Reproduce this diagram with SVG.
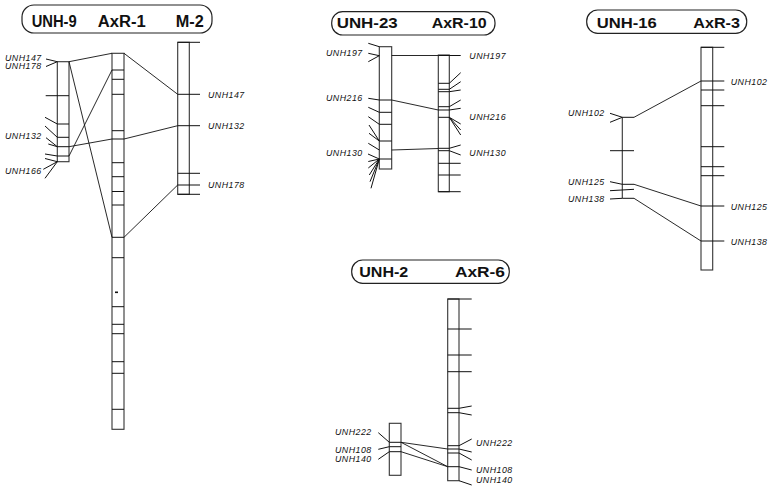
<svg xmlns="http://www.w3.org/2000/svg" width="769" height="486" viewBox="0 0 769 486">
<style>
.bg{fill:#fff}
.chr{fill:none;stroke:#333;stroke-width:1.1}
.t{stroke:#111;stroke-width:1;fill:none}
.c{stroke:#111;stroke-width:0.9;fill:none}
.box{fill:none;stroke:#222;stroke-width:1.2}
.lbl{font-family:"Liberation Sans",Arial,sans-serif;font-style:italic;font-size:8.8px;letter-spacing:0.5px;fill:#111}
.title{font-family:"Liberation Sans",Arial,sans-serif;font-weight:bold;font-size:16px;fill:#111}
.title.s{font-size:15px}
</style>
<rect class="bg" x="0" y="0" width="769" height="486"/>

<!-- Titles -->
<g id="title1">
<rect class="box" x="22" y="5" width="190" height="28" rx="12"/>
<text class="title" x="31.7" y="26.7" textLength="45" lengthAdjust="spacingAndGlyphs">UNH-9</text>
<text class="title" x="97.7" y="26.7" textLength="48" lengthAdjust="spacingAndGlyphs">AxR-1</text>
<text class="title" x="175.7" y="26.7" textLength="28" lengthAdjust="spacingAndGlyphs">M-2</text>
</g>
<g id="title2">
<rect class="box" x="331.7" y="11.7" width="163.3" height="23.3" rx="11"/>
<text class="title s" x="336.7" y="27.5" textLength="61" lengthAdjust="spacingAndGlyphs">UNH-23</text>
<text class="title s" x="431.7" y="27.5" textLength="55" lengthAdjust="spacingAndGlyphs">AxR-10</text>
</g>
<g id="title3">
<rect class="box" x="586.7" y="10" width="160" height="23.3" rx="11"/>
<text class="title s" x="596.7" y="27.7" textLength="60" lengthAdjust="spacingAndGlyphs">UNH-16</text>
<text class="title s" x="693.3" y="27.7" textLength="46.7" lengthAdjust="spacingAndGlyphs">AxR-3</text>
</g>
<g id="title4">
<rect class="box" x="351.7" y="260" width="157.6" height="23.3" rx="11"/>
<text class="title s" x="359.3" y="277.3" textLength="49" lengthAdjust="spacingAndGlyphs">UNH-2</text>
<text class="title s" x="455" y="277.3" textLength="50" lengthAdjust="spacingAndGlyphs">AxR-6</text>
</g>

<!-- UNH-9 -->
<g id="UNH-9">
<rect class="chr" x="57.3" y="61.7" width="11.7" height="100"/>
<path class="t" d="M45.7 95.7H69M57.3 124H69M57.3 137.3H69M57.3 146.7H69M57.3 156H69"/>
<path class="t" d="M46 59L57.3 61.7M46 66.5L57.3 61.7M45 117.3L57.3 124M45 126L57.3 137.3M46 137.7L57.3 146.7M48.3 144L57.3 146.7M45 154L57.3 156M45 158.5L57.3 161.7M43.3 169.3L57.3 161.7M45 178.3L57.3 161.7"/>
<text class="lbl" x="5" y="60.5">UNH147</text>
<text class="lbl" x="5" y="69">UNH178</text>
<text class="lbl" x="5" y="138.5">UNH132</text>
<text class="lbl" x="5" y="173.5">UNH166</text>
</g>

<!-- AxR-1 -->
<g id="AxR-1">
<rect class="chr" x="112" y="53.3" width="12" height="376"/>
<path class="t" d="M112 70H124M112 79.3H124M112 94.3H124M112 130.7H124M112 139H124M112 162.7H124M112 176.7H124M112 191.5H124M112 205H124M112 237.3H124M112 257.7H124M112 306.7H124M112 324.3H124M112 333.7H124M112 361.7H124M112 373.3H124M112 409.3H124"/>
<path d="M115 292.3H118" stroke="#111" stroke-width="1.6"/>
</g>

<!-- M-2 -->
<g id="M-2">
<rect class="chr" x="177.7" y="42.3" width="11.6" height="152"/>
<path class="t" d="M177.7 42.3H200M177.7 94.3H200M177.7 125.7H200M177.7 173.3H200M177.7 185H200M177.7 194.3H200"/>
<text class="lbl" x="208" y="98">UNH147</text>
<text class="lbl" x="208" y="129">UNH132</text>
<text class="lbl" x="208" y="188">UNH178</text>
</g>

<!-- UNH-23 -->
<g id="UNH-23">
<rect class="chr" x="379.3" y="46.7" width="12.4" height="122.3"/>
<path class="t" d="M379.3 100H391.7M379.3 112.3H391.7M379.3 124.3H391.7M379.3 141H391.7M379.3 159H391.7"/>
<path class="t" d="M368.3 43.3L379.3 46.7M368.3 53.3L379.3 55.7M368.3 61.7L379.3 55.7M368.3 98.3L379.3 100M368.3 107.3L379.3 112.3M368.3 116.7L379.3 124.3M369 125L379.3 141M369 133.3L379.3 141M368.3 143.3L379.3 150M368 154L379.3 159M368.3 161.5L379.3 159M368.3 168L379.3 159M369.3 175L379.3 159M370 181.7L379.3 159M371 188.3L379.3 159"/>
<text class="lbl" x="326" y="55.5">UNH197</text>
<text class="lbl" x="326" y="100.5">UNH216</text>
<text class="lbl" x="326" y="155.5">UNH130</text>
</g>

<!-- AxR-10 -->
<g id="AxR-10">
<rect class="chr" x="438.3" y="55" width="11" height="136.7"/>
<path class="t" d="M438.3 55.5H460.7M438.3 83.3H449.3M438.3 89.3H449.3M438.3 91.7H449.3M438.3 106.7H449.3M438.3 110H449.3M438.3 117.3H449.3M438.3 148.3H449.3M438.3 150.7H449.3M438.3 163.3H460.7M438.3 175H460.7M438.3 191.7H460.7"/>
<path class="t" d="M449.3 83.3L460.7 72.7M449.3 89.3L460.7 81.7M449.3 91.7L460.7 90M449.3 106.7L460.7 100M449.3 110L460.7 108.3M449.3 117.3L460.7 124M449.3 117.3L460.7 130M449.3 117.3L460.7 135M449.3 148.3L460.7 145M449.3 150.7L460.7 155"/>
<text class="lbl" x="469.3" y="58.5">UNH197</text>
<text class="lbl" x="469.3" y="119.5">UNH216</text>
<text class="lbl" x="469.3" y="156">UNH130</text>
</g>

<!-- UNH-16 -->
<g id="UNH-16">
<path class="chr" d="M622.3 117.3V198.3"/>
<path class="t" d="M622.3 117.3H634M610 150.7H634M622.3 184.3H634M610 190.7L634 189.3M622.3 198.3H634"/>
<path class="t" d="M610 113.3L622.3 117.3M610 122.3L622.3 117.3M610 181.7L622.3 184.3M610 199L622.3 198.3"/>
<text class="lbl" x="568" y="115.5">UNH102</text>
<text class="lbl" x="568" y="185">UNH125</text>
<text class="lbl" x="568" y="201.5">UNH138</text>
</g>

<!-- AxR-3 -->
<g id="AxR-3">
<rect class="chr" x="701" y="47.3" width="11.7" height="222.7"/>
<path class="t" d="M701 47.3H724.3M701 81H724.3M701 90H724.3M701 105.7H724.3M701 146.7H724.3M701 166.7H724.3M701 175.7H724.3M701 206H724.3M701 241H724.3"/>
<text class="lbl" x="730.7" y="85">UNH102</text>
<text class="lbl" x="730.7" y="210">UNH125</text>
<text class="lbl" x="730.7" y="245">UNH138</text>
</g>

<!-- UNH-2 -->
<g id="UNH-2">
<rect class="chr" x="389.3" y="423.3" width="11.7" height="52"/>
<path class="t" d="M389.3 442.3H401M389.3 446.7H401M389.3 451.7H401"/>
<path class="t" d="M378.3 432.7L389.3 442.3M378.3 449.3L389.3 446.7M378.3 459.3L389.3 451.7"/>
<text class="lbl" x="335" y="435">UNH222</text>
<text class="lbl" x="335" y="452.5">UNH108</text>
<text class="lbl" x="335" y="461.5">UNH140</text>
</g>

<!-- AxR-6 -->
<g id="AxR-6">
<rect class="chr" x="447.7" y="299" width="11.3" height="181.7"/>
<path class="t" d="M447.7 299H471.7M447.7 329H471.7M447.7 355H471.7M447.7 371.7H471.7M447.7 408.3H459M447.7 412.7H459M447.7 445.7H459M447.7 449H459M447.7 453H459M447.7 466.7H459"/>
<path class="t" d="M459 408.3L471.7 406M459 412.7L471.7 415M459 445.7L471.7 439M459 449L471.7 452M459 453L471.7 460M459 466.7L471.7 470M459 480.7L471.7 485"/>
<text class="lbl" x="476" y="445.5">UNH222</text>
<text class="lbl" x="476" y="473">UNH108</text>
<text class="lbl" x="476" y="482.5">UNH140</text>
</g>

<!-- Connectors -->
<g id="connectors">
<path class="c" d="M69 61.7L112 53.3"/>
<path class="c" d="M124 53.3L177.7 94.3"/>
<path class="c" d="M69 61.7L112 237.3"/>
<path class="c" d="M69 156L112 70"/>
<path class="c" d="M69 146.7L112 139"/>
<path class="c" d="M124 139L177.7 125.7"/>
<path class="c" d="M124 237.3L177.7 185"/>
<path class="c" d="M391.7 55.5H438.3"/>
<path class="c" d="M391.7 100L438.3 110"/>
<path class="c" d="M391.7 150L438.3 148.5"/>
<path class="c" d="M634 117.3L701 81"/>
<path class="c" d="M634 184.3L701 206"/>
<path class="c" d="M634 198.3L701 241"/>
<path class="c" d="M401 442.3L447.7 449"/>
<path class="c" d="M401 442.3L447.7 466.7"/>
<path class="c" d="M401 451.7L447.7 466.7"/>
</g>
</svg>
